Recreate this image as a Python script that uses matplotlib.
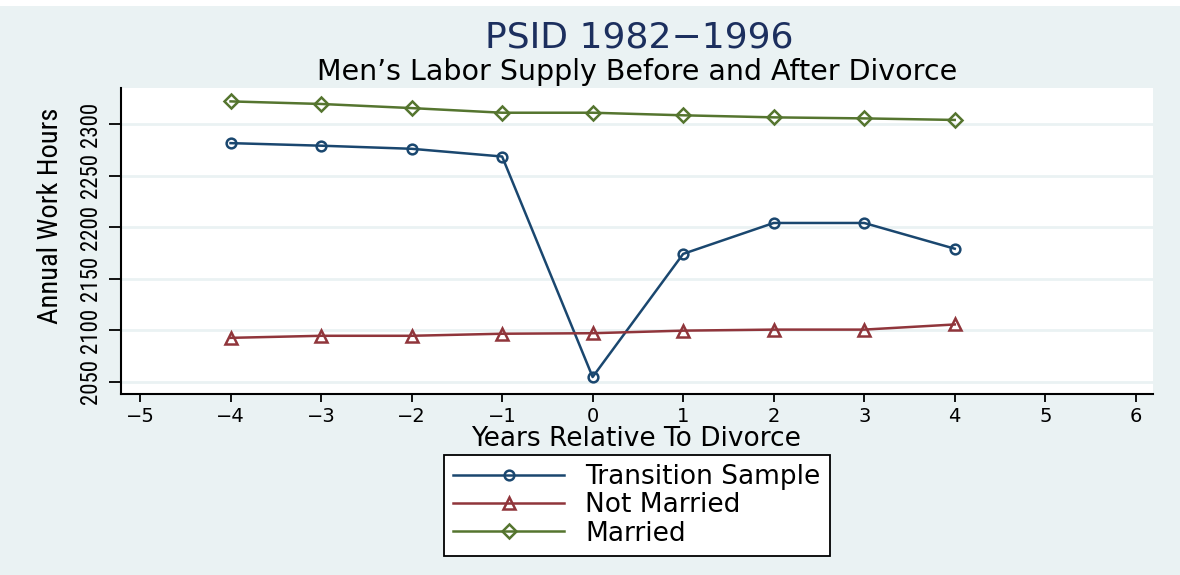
import matplotlib.pyplot as plt
from matplotlib.patches import Rectangle

years = [-4, -3, -2, -1, 0, 1, 2, 3, 4]
transition = [2281.5, 2279, 2276, 2268.5, 2054.5, 2174, 2204, 2204, 2179]
not_married = [2092.5, 2094.5, 2094.5, 2096.5, 2097, 2099.5, 2100.5, 2100.5, 2105.5]
married = [2322, 2319.5, 2315.5, 2311, 2311, 2308.5, 2306.5, 2305.5, 2304]

x_ticks = [-5, -4, -3, -2, -1, 0, 1, 2, 3, 4, 5, 6]
y_ticks = [2050, 2100, 2150, 2200, 2250, 2300]

bg = "#eaf2f3"
navy = "#1a476f"
maroon = "#90353b"
green = "#55752f"
narrow = ["Roboto Condensed", "Liberation Sans", "DejaVu Sans"]
wide = ["DejaVu Sans"]

fig = plt.figure(figsize=(11.8, 5.75), dpi=100, facecolor=bg)
# white strip at the very top (page edge in the source image)
fig.add_artist(Rectangle((0, 1 - 6 / 575), 1, 6 / 575, transform=fig.transFigure,
                         facecolor="white", edgecolor="none"))
ax = fig.add_axes([121 / 1180, 1 - 394 / 575, (1153 - 121) / 1180, (394 - 88) / 575])
ax.set_facecolor("white")

ax.plot(years, transition, "-o", color=navy, lw=1.8, ms=7, mfc="none", mew=1.8,
        label="Transition Sample")
ax.plot(years, not_married, "-^", color=maroon, lw=1.8, ms=8.5, mfc="none", mew=1.8,
        label="Not Married")
ax.plot(years, married, "-D", color=green, lw=1.8, ms=7, mfc="none", mew=1.8,
        label="Married")

ax.set_xlim(-5.21, 6.19)
ax.set_ylim(2038, 2335)
ax.set_xticks(x_ticks)
ax.set_xticklabels([str(v).replace("-", "\u2212") for v in x_ticks], family=wide, fontsize=14)
ax.set_yticks(y_ticks)
ax.set_yticklabels([str(v) for v in y_ticks], family=narrow, fontsize=16.5,
                   rotation=90, va="center")
ax.grid(axis="y", color=bg, lw=2)
ax.set_axisbelow(True)
for s in ["top", "right"]:
    ax.spines[s].set_visible(False)
ax.spines["left"].set_linewidth(1.5)
ax.spines["bottom"].set_linewidth(1.5)
ax.tick_params(axis="x", length=6, width=1.3, pad=3.5)
ax.tick_params(axis="y", length=9, width=1.3, pad=4.5)

xl = ax.set_xlabel("Years Relative To Divorce", family=wide, fontsize=19)
ax.xaxis.set_label_coords((636 - 121) / 1032, (394 - 446) / 306)
xl.set_va("baseline")
yl = ax.set_ylabel("Annual Work Hours", family=narrow, fontsize=20.5)
ax.yaxis.set_label_coords((51 - 121) / 1032, (394 - 216) / 306)
yl.set_va("center")
yl.set_ha("center")

fig.text(639 / 1180, 1 - 48 / 575, "PSID 1982\u22121996", ha="center", va="baseline",
         family=wide, fontsize=26, color="#1c2f5e")
fig.text(637 / 1180, 1 - 80 / 575, "Men\u2019s Labor Supply Before and After Divorce",
         ha="center", va="baseline", family=wide, fontsize=20.5, color="black")

leg = fig.legend(loc="center", bbox_to_anchor=(637 / 1180, 1 - 505.5 / 575),
                 prop={"family": wide, "size": 19}, frameon=True, fancybox=False,
                 edgecolor="black", facecolor="white", framealpha=1,
                 handlelength=4.2, numpoints=1, borderpad=0.35, labelspacing=0.08,
                 handletextpad=0.8)
leg.get_frame().set_linewidth(1.3)

fig.savefig("out.png", dpi=100, facecolor=bg)
